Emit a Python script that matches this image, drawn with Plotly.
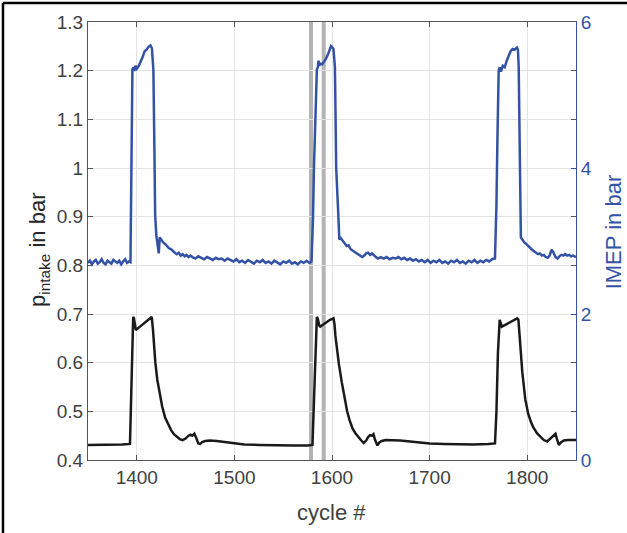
import plotly.graph_objects as go

# ---- data ----
imep_cycle = [1350,1352,1354,1356,1358,1360,1362,1364,1366,1368,1370,1372,1374,1376,1378,1380,1382,1384,1386,1388,1390,1392,1393.5,
              1394.5,1395.5,1396.5,1397.5,1398.5,1400,1402,1404,1406,1408,1410,1412,1414,1415.5,1417,1418,1418.8,1420,1421.5,1422.5,1423.5,
              1425,1427,1429,1431,1433,1435,1437,1439,1441,1443,1445,1447,1449,1451,1453,1455,
              1457,1460,1463,1466,1469,1472,1475,1478,1481,1484,1487,1490,1493,1496,1499,1502,1505,1508,1511,1514,1517,1520,1523,1526,
              1529,1532,1535,1538,1541,1544,1547,1550,1553,1556,1559,1562,1565,1568,1571,1574,1577,1579,
              1580.5,1581.5,1583,1584.5,1585.5,1586.2,1587,1588,1590,1592,1594,1596,1598,1599,1600,1601.5,1603,1604.3,1606.5,1607.5,
              1609,1611,1613,1615,1617,1619,1621,1623,1625,1627,1629,1631,1633,1635,1637,1639,1641,1643,1645,1647,1650,1653,1656,1659,
              1662,1665,1668,1671,1674,1677,1680,1683,1686,1689,1692,1695,1698,1701,1704,1707,1710,1713,1716,1719,1722,1725,1728,1731,
              1734,1737,1740,1743,1746,1749,1752,1755,1758,1761,1764,1767,
              1768.5,1769.5,1770.8,1772,1773,1775,1777,1779,1781,1783,1785,1787,1789.5,1790.5,1791.3,1792,1792.6,1793.5,1795,1797,1799,
              1801,1803,1805,1807,1809,1811,1813,1815,1817,1819,1821,1823,1825,1827,1829,1831,1833,1835,1837,1839,1841,1843,1845,1847,1850]
imep_bar = [2.70,2.73,2.68,2.72,2.74,2.69,2.71,2.75,2.70,2.68,2.73,2.71,2.69,2.74,2.72,2.70,2.73,2.68,2.72,2.75,2.70,2.72,2.71,
            4.5,5.35,5.38,5.33,5.40,5.36,5.40,5.45,5.52,5.60,5.62,5.66,5.68,5.64,5.34,4.3,3.35,3.08,2.95,2.83,3.05,
            3.02,2.98,2.96,2.93,2.90,2.89,2.86,2.84,2.82,2.84,2.80,2.82,2.79,2.81,2.78,2.80,
            2.78,2.76,2.79,2.77,2.75,2.78,2.76,2.74,2.77,2.75,2.76,2.73,2.76,2.74,2.72,2.75,2.71,2.73,2.70,2.74,2.72,2.69,2.73,2.71,
            2.74,2.70,2.72,2.69,2.73,2.71,2.68,2.72,2.70,2.73,2.69,2.71,2.68,2.72,2.70,2.73,2.70,2.72,
            3.3,4.0,4.7,5.35,5.38,5.47,5.40,5.43,5.42,5.46,5.50,5.56,5.62,5.67,5.66,5.63,5.38,4.0,3.35,3.02,
            3.04,3.00,2.97,2.93,2.94,2.89,2.87,2.85,2.83,2.81,2.80,2.78,2.80,2.83,2.84,2.81,2.83,2.80,2.78,2.76,2.78,2.76,2.78,2.75,
            2.77,2.76,2.78,2.75,2.77,2.74,2.76,2.73,2.75,2.72,2.74,2.71,2.74,2.70,2.73,2.71,2.74,2.70,2.72,2.69,2.73,2.71,2.74,2.70,
            2.72,2.69,2.73,2.71,2.74,2.70,2.73,2.71,2.74,2.72,2.75,2.76,
            3.5,4.4,5.34,5.38,5.32,5.40,5.38,5.47,5.53,5.60,5.63,5.62,5.65,5.62,5.38,4.3,3.6,3.05,3.02,2.98,2.96,
            2.93,2.90,2.88,2.86,2.84,2.82,2.83,2.80,2.81,2.78,2.77,2.80,2.88,2.84,2.78,2.76,2.79,2.81,2.80,2.82,2.80,2.81,2.79,2.80,2.78]

p_cycle = [1350,1370,1385,1393,1394.5,1395.5,1396.3,1397,1398,1399,1402,1406,1410,1413,1415.3,1416.5,1417.5,1419,1421,1423.5,
           1426,1429,1432,1435,1438,1441,1444,1447,1450,1453,1455,1457,1459,1461,1463,1465,1467,1470,1475,1482,1490,1499,1510,
           1526,1545,1560,1575,1580,1581.5,1583,1584.5,1585.5,1587,1588,1590,1592,1595,1598,1601.5,1602.5,1603.5,1605,1607,1610,
           1613,1615.5,1618,1621,1624,1627,1630,1632.5,1635,1637,1639,1641,1642.5,1644,1646.5,1648.5,1651,1655,1660,1670,1680,
           1690,1700,1715,1730,1745,1760,1767,1768.5,1770,1771.8,1772.5,1774,1777,1781,1785,1789.7,1791,1792,1793,1795,1798,
           1801,1803.5,1806,1810,1813.5,1817,1820.5,1822.5,1825,1827,1829,1830.5,1832.4,1834.5,1837.5,1842,1850]
p_intake = [0.431,0.431,0.432,0.433,0.55,0.66,0.694,0.692,0.672,0.667,0.672,0.679,0.686,0.690,0.694,0.670,0.635,0.600,0.565,0.537,
            0.510,0.487,0.473,0.462,0.453,0.447,0.443,0.441,0.444,0.450,0.452,0.450,0.454,0.445,0.434,0.433,0.437,0.439,0.440,0.439,0.437,0.434,0.432,
            0.431,0.430,0.430,0.430,0.431,0.52,0.62,0.694,0.690,0.676,0.674,0.677,0.680,0.684,0.688,0.691,0.680,0.655,0.625,0.598,0.560,
            0.525,0.500,0.482,0.465,0.455,0.447,0.440,0.435,0.440,0.447,0.451,0.450,0.453,0.442,0.430,0.436,0.439,0.441,0.441,0.440,0.438,
            0.436,0.434,0.433,0.432,0.432,0.433,0.434,0.50,0.62,0.688,0.684,0.674,0.677,0.681,0.685,0.691,0.688,0.660,0.627,0.580,0.525,
            0.495,0.480,0.468,0.455,0.448,0.441,0.438,0.442,0.447,0.449,0.454,0.443,0.431,0.436,0.440,0.441,0.441]

marker_cycles = [1578.5, 1591.5]
x_ticks = [1400, 1500, 1600, 1700, 1800]
y_ticks = [0.4, 0.5, 0.6, 0.7, 0.8, 0.9, 1.0, 1.1, 1.2, 1.3]
y_ticktext = ["0.4", "0.5", "0.6", "0.7", "0.8", "0.9", "1", "1.1", "1.2", "1.3"]
y2_ticks = [0, 2, 4, 6]

BLUE = "#3352a6"
DARK = "#262626"
FONT = "Liberation Sans"

fig = go.Figure()
fig.add_trace(go.Scatter(x=p_cycle, y=p_intake, mode="lines",
                         line=dict(color="#1a1a1a", width=2.5), yaxis="y", showlegend=False))
fig.add_trace(go.Scatter(x=imep_cycle, y=imep_bar, mode="lines",
                         line=dict(color=BLUE, width=2.5), yaxis="y2", showlegend=False))

for c in marker_cycles:
    fig.add_shape(type="line", x0=c, x1=c, y0=0, y1=1, xref="x", yref="paper",
                  line=dict(color="#b3b3b3", width=4), layer="between")

# outer frame (top and left edges)
fig.add_shape(type="line", xref="paper", yref="paper", x0=-0.1742, x1=1.2, y0=1.0434, y1=1.0434,
              line=dict(color="black", width=2.5))
fig.add_shape(type="line", xref="paper", yref="paper", x0=-0.1742, x1=-0.1742, y0=-0.2, y1=1.0434,
              line=dict(color="black", width=2.5))

fig.update_layout(
    width=627, height=533,
    margin=dict(l=88, r=51, t=22, b=73),
    paper_bgcolor="white", plot_bgcolor="white",
    font=dict(family=FONT, size=19, color=DARK),
    xaxis=dict(range=[1350, 1850], tickvals=x_ticks, showgrid=True, gridcolor="#e3e3e3", gridwidth=1,
               ticks="inside", ticklen=5, tickcolor="#555555", showline=True, linecolor="#555555", linewidth=1,
               mirror="ticks", zeroline=False, tickfont=dict(size=19, color="#404040")),
    yaxis=dict(range=[0.4, 1.3], tickvals=y_ticks, ticktext=y_ticktext,
               showgrid=True, gridcolor="#e3e3e3", gridwidth=1,
               ticks="inside", ticklen=5, tickcolor="#555555", showline=True, linecolor="#555555", linewidth=1,
               mirror="ticks", zeroline=False, tickfont=dict(size=19, color="#404040")),
    yaxis2=dict(range=[0, 6], tickvals=y2_ticks, overlaying="y", side="right", showgrid=False,
                ticks="inside", ticklen=5, tickcolor=BLUE, showline=True, linecolor=BLUE, linewidth=1,
                zeroline=False, tickfont=dict(size=19, color=BLUE)),
    annotations=[
        dict(text="p<sub>intake</sub> in bar", xref="paper", yref="paper", x=-0.1, y=0.48,
             textangle=-90, showarrow=False, font=dict(size=22, color=DARK), xanchor="center", yanchor="middle"),
        dict(text="IMEP in bar", xref="paper", yref="paper", x=1.076, y=0.52,
             textangle=-90, showarrow=False, font=dict(size=22, color=BLUE), xanchor="center", yanchor="middle"),
        dict(text="cycle #", xref="paper", yref="paper", x=0.498, y=-0.119,
             showarrow=False, font=dict(size=22, color="#404040"), xanchor="center", yanchor="middle"),
    ],
)

fig.write_html("out.html")
